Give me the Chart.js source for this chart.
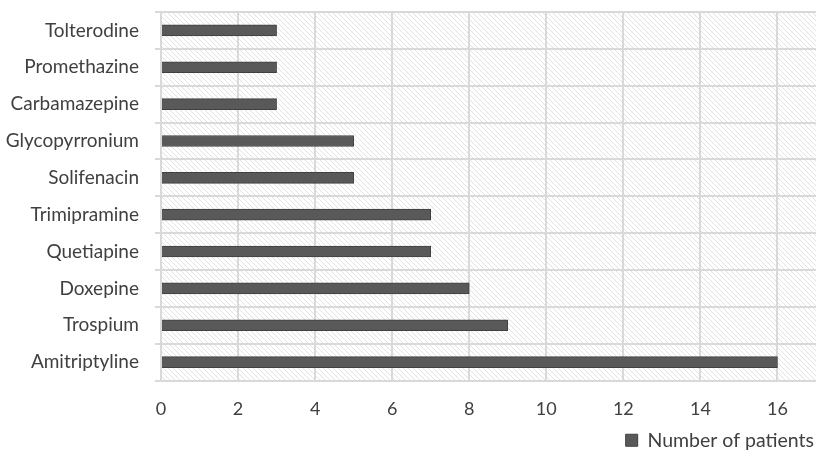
<!DOCTYPE html>
<html>
<head>
<meta charset="utf-8">
<script src="https://cdn.jsdelivr.net/npm/chart.js@4/dist/chart.umd.min.js"></script>
<style>
  html, body { margin: 0; padding: 0; background: #fff; }
  #wrap { width: 829px; height: 461px; }
</style>
</head>
<body>
<div id="wrap"><canvas id="chart" width="829" height="461"></canvas></div>
<script>
// ----------------------------------------------------------
// Données
// ----------------------------------------------------------
const drugs    = ['Tolterodine', 'Promethazine', 'Carbamazepine', 'Glycopyrronium', 'Solifenacin',
                  'Trimipramine', 'Quetiapine', 'Doxepine', 'Trospium', 'Amitriptyline'];
const patients = [3, 3, 3, 5, 5, 7, 7, 8, 9, 16];
const xMax     = 17;
const xStep    = 2;

// ----------------------------------------------------------
// Fond hachuré de la zone de tracé
// ----------------------------------------------------------
function makeHatch() {
  const c = document.createElement('canvas');
  c.width = 5; c.height = 5;
  const g = c.getContext('2d');
  g.fillStyle = '#ffffff';
  g.fillRect(0, 0, 5, 5);
  g.strokeStyle = '#e2e2e2';
  g.lineWidth = 1;
  g.beginPath();
  g.moveTo(0, 0);   g.lineTo(5, 5);
  g.moveTo(-3, 2);  g.lineTo(2, 7);
  g.moveTo(2, -3);  g.lineTo(7, 2);
  g.stroke();
  return c;
}

const hatchPlugin = {
  id: 'hatch',
  beforeDraw(chart) {
    const { ctx, chartArea: a } = chart;
    ctx.save();
    ctx.fillStyle = ctx.createPattern(makeHatch(), 'repeat');
    ctx.fillRect(a.left, a.top, a.right - a.left, a.bottom - a.top);
    ctx.restore();
  },
};

function init() {
  Chart.defaults.font.family = "Lato, 'Open Sans', sans-serif";
  Chart.defaults.color = '#404040';

  new Chart(document.getElementById('chart'), {
    type: 'bar',
    data: {
      labels: drugs,
      datasets: [{
        label:           'Number of patients',
        data:            patients,
        backgroundColor: '#595959',
        borderColor:     '#404040',
        borderWidth:     1,
        barThickness:    11,
      }],
    },
    options: {
      indexAxis: 'y',
      responsive: false,
      animation: false,
      layout: { padding: { top: 12, right: 13, left: 4, bottom: 1 } },
      plugins: {
        legend: {
          position: 'bottom',
          align: 'end',
          labels: {
            boxWidth: 12,
            boxHeight: 12,
            font: { size: 19.5 },
            color: '#404040',
            padding: 2,
          },
        },
        tooltip: { enabled: false },
      },
      scales: {
        x: {
          min: 0,
          max: xMax,
          afterFit(axis) {
            axis.height = 48;
          },
          grid: {
            color: (c) => (c.tick && c.tick.value > 16 ? 'rgba(0,0,0,0)' : '#d9d9d9'),
            lineWidth: 2,
            drawTicks: false,
          },
          border: { display: false },
          ticks: { stepSize: xStep, includeBounds: false, font: { size: 18 }, color: '#404040', padding: 18 },
        },
        y: {
          afterFit(axis) {
            axis.paddingTop = 0;
            axis.paddingBottom = 0;
            axis.width = 157;
          },
          grid: { color: '#d9d9d9', lineWidth: 2, offset: true, tickLength: 6 },
          border: { color: '#d9d9d9', width: 2 },
          ticks: { font: { size: 19 }, color: '#404040', padding: 16 },
        },
      },
    },
    plugins: [hatchPlugin],
  });
}

if (document.fonts && document.fonts.load) {
  Promise.all([
    document.fonts.load('18px Lato'),
    document.fonts.load('19px Lato'),
  ]).then(init, init);
} else {
  init();
}
</script>
</body>
</html>
